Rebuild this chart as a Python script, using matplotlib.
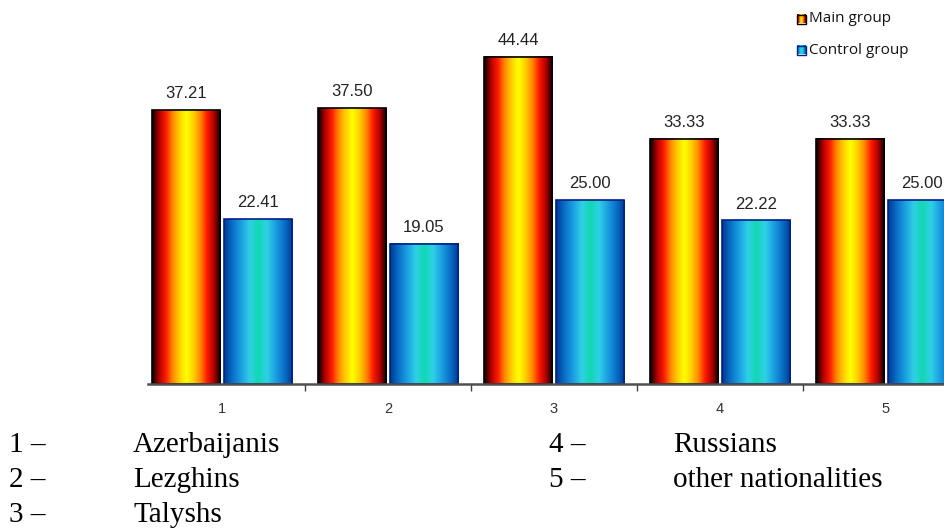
import numpy as np
import matplotlib
matplotlib.use("Agg")
import matplotlib.pyplot as plt
from matplotlib.colors import LinearSegmentedColormap
from matplotlib.patches import Rectangle

# Data
groups = ["1", "2", "3", "4", "5"]
main_group = [37.21, 37.50, 44.44, 33.33, 33.33]
control_group = [22.41, 19.05, 25.00, 22.22, 25.00]
series_names = ["Main group", "Control group"]
key_numbers = ["1 –", "2 –", "3 –", "4 –", "5 –"]
key_names = ["Azerbaijanis", "Lezghins", "Talyshs", "Russians", "other nationalities"]

# Cylinder-like horizontal gradients
warm = LinearSegmentedColormap.from_list(
    "warm", ["#000000", "#b00000", "#ff1a00", "#ff8a00", "#ffd000", "#ffff00",
             "#ffd000", "#ff8a00", "#ff1a00", "#b00000", "#000000"])
cool = LinearSegmentedColormap.from_list(
    "cool", ["#003a90", "#0a6fc8", "#1aa0e0", "#30d0e8", "#10d8b0", "#30d0e8",
             "#1aa0e0", "#0a6fc8", "#003a90"])

fig = plt.figure(figsize=(9.45, 5.3), dpi=100)
ax = fig.add_axes([148 / 945, 146 / 530, 821 / 945, 368 / 530])

x = np.arange(1, len(groups) + 1)
bw = 0.41
off = 0.215
grad = np.linspace(0, 1, 256).reshape(1, -1)


def gradient_bar(xc, h, cmap, edge, lw):
    x0, x1 = xc - bw / 2, xc + bw / 2
    ax.imshow(grad, cmap=cmap, extent=[x0, x1, 0, h], aspect="auto",
              interpolation="bicubic", zorder=2)
    ax.add_patch(Rectangle((x0, 0), bw, h, fill=False, edgecolor=edge,
                           linewidth=1.2, zorder=3))


for xi, m, c in zip(x, main_group, control_group):
    gradient_bar(xi - off, m, warm, "#000000", 1.2)
    gradient_bar(xi + off, c, cool, "#00208a", 1.2)
    ax.text(xi - off, m + 1.2, f"{m:.2f}", ha="center", va="bottom",
            fontsize=12, family="Liberation Sans", color="#222222")
    ax.text(xi + off, c + 1.2, f"{c:.2f}", ha="center", va="bottom",
            fontsize=12, family="Liberation Sans", color="#222222")

ax.set_xlim(1 - 74 / 166, 5.5)
ax.set_ylim(0, 50)

for s in ["top", "right", "left"]:
    ax.spines[s].set_visible(False)
ax.spines["bottom"].set_color("#505050")
ax.spines["bottom"].set_linewidth(1.8)
ax.spines["bottom"].set_zorder(4)
ax.set_yticks([])

# Group separators as ticks, group numbers as minor labels
ax.set_xticks(x[:-1] + 0.5)
ax.set_xticklabels([])
ax.tick_params(axis="x", which="major", length=5, width=1, color="#404040",
               direction="out")
ax.set_xticks(x, minor=True)
ax.set_xticklabels(groups, minor=True, fontsize=10.5, family="Liberation Sans",
                   color="#333333")
ax.tick_params(axis="x", which="minor", length=0, pad=13)

# Legend
leg_ax = fig.add_axes([0, 0, 1, 1], facecolor="none")
leg_ax.axis("off")
for i, (name, cmap, edge) in enumerate(zip(series_names, [warm, cool],
                                           ["#000000", "#00208a"])):
    yc = 19 + 31 * i
    leg_ax.imshow(grad, cmap=cmap, extent=[797, 806, yc + 4.5, yc - 4.5],
                  aspect="auto", interpolation="bicubic")
    leg_ax.add_patch(Rectangle((797, yc - 4.5), 9, 9, fill=False,
                               edgecolor=edge, linewidth=1))
    leg_ax.text(809, yc, name, ha="left", va="center", fontsize=11,
                family="Open Sans", color="#111111")
leg_ax.set_xlim(0, 945)
leg_ax.set_ylim(530, 0)

# Key beneath the chart
baselines = [452, 487, 522, 452, 487]
cols_num = [9, 9, 9, 549, 549]
cols_name = [133, 133, 133, 673, 673]
for num, name, yv, xn, xt in zip(key_numbers, key_names, baselines, cols_num, cols_name):
    fig.text(xn / 945, 1 - yv / 530, num, ha="left", va="baseline", fontsize=21,
             family="Liberation Serif", color="black")
    fig.text(xt / 945, 1 - yv / 530, name, ha="left", va="baseline", fontsize=21,
             family="Liberation Serif", color="black")

fig.savefig("out.png", dpi=100)
